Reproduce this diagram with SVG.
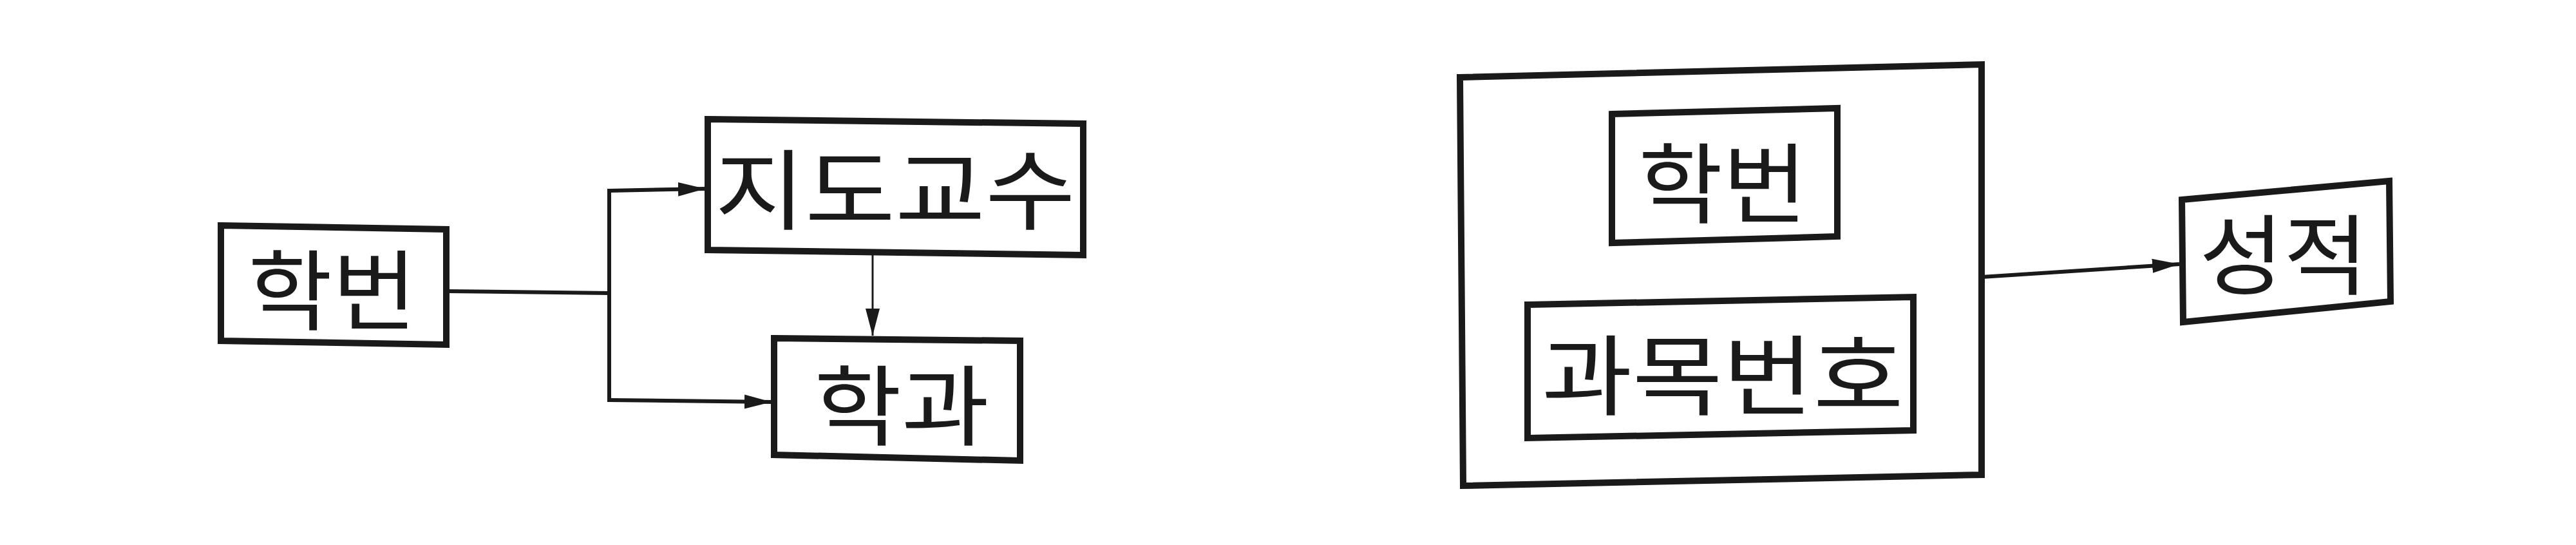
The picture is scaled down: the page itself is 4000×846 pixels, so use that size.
<svg xmlns="http://www.w3.org/2000/svg" width="4000" height="846" viewBox="0 0 4000 846">
<style>
.box{fill:none;stroke:#1a1a1a;stroke-width:10;stroke-linejoin:miter}
.lbl{font-family:"Noto Sans CJK KR","Noto Sans",sans-serif;font-size:136px;font-weight:400;fill:#1a1a1a;text-anchor:middle}
.con{fill:none;stroke:#1a1a1a;stroke-width:6}
</style>
<defs>
<marker id="arr" markerUnits="userSpaceOnUse" markerWidth="44" markerHeight="26" refX="42" refY="13" orient="auto">
<path d="M0,2 L42,13 L0,24 Z" fill="#1a1a1a"/>
</marker>
</defs>
<rect width="4000" height="846" fill="#ffffff"/>
<g id="n-hakbeon1">
<polygon class="box" points="343,350 693,356 693,535 343,529"/>
<text class="lbl" x="516" y="502" textLength="262" lengthAdjust="spacingAndGlyphs">학번</text>
</g>
<g id="n-jidogyosu">
<polygon class="box" points="1099,185 1682,192 1682,396 1099,388"/>
<text class="lbl" x="1390" y="346" textLength="560" lengthAdjust="spacingAndGlyphs">지도교수</text>
</g>
<g id="n-hakgwa">
<polygon class="box" points="1202,525 1584,529 1584,715 1202,706"/>
<text class="lbl" x="1400" y="681" textLength="272" lengthAdjust="spacingAndGlyphs">학과</text>
</g>
<g id="n-composite">
<polygon class="box" points="2267,120 3077,100 3077,737 2272,754"/>
</g>
<g id="n-hakbeon2">
<polygon class="box" points="2503,177 2853,168 2853,367 2503,377"/>
<text class="lbl" x="2675" y="336" textLength="262" lengthAdjust="spacingAndGlyphs">학번</text>
</g>
<g id="n-gwamokbeonho">
<polygon class="box" points="2372,473 2971,461 2971,668 2372,680"/>
<text class="lbl" x="2675" y="634" textLength="562" lengthAdjust="spacingAndGlyphs">과목번호</text>
</g>
<g id="n-seongjeok">
<polygon class="box" points="3388,310 3710,281 3712,468 3390,500"/>
<text class="lbl" x="3546" y="447" textLength="262" lengthAdjust="spacingAndGlyphs">성적</text>
</g>
<g id="connectors">
<polyline class="con" points="693,452 946,455"/>
<polyline class="con" points="946,293 946,624"/>
<polyline class="con" points="946,296 1095,293" marker-end="url(#arr)"/>
<polyline class="con" points="946,621 1198,624" marker-end="url(#arr)"/>
<polyline class="con" points="1355,396 1355,521" marker-end="url(#arr)" style="stroke-width:3"/>
<polyline class="con" points="3077,430 3384,410" marker-end="url(#arr)"/>
</g>
</svg>
